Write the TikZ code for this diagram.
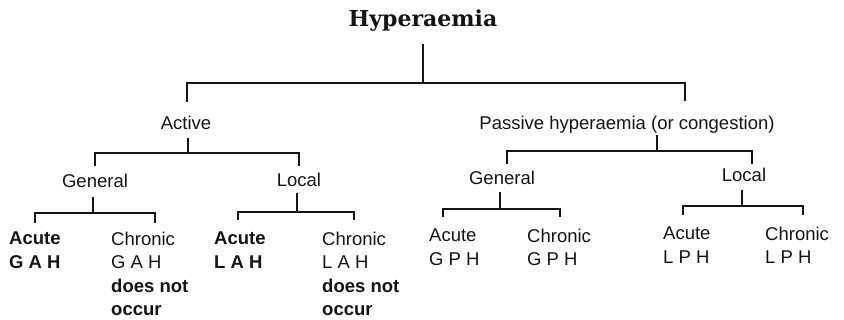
\documentclass[tikz,border=0pt]{standalone}
\usepackage{fontspec}
\setmainfont{Liberation Sans}
\newfontfamily\titlefont{DejaVu Serif}
\usepackage{tikz}
\usetikzlibrary{positioning}
\definecolor{HypInk}{HTML}{141414}

\begin{document}
\begin{tikzpicture}[x=1pt,y=-1pt,
  lbl/.style={font=\fontsize{18.5}{23.5}\selectfont,text=HypInk,inner sep=0pt,anchor=base},
  leaf/.style={font=\fontsize{18.5}{23.5}\selectfont,text=HypInk,inner sep=0pt,anchor=north west,align=left},
  link/.style={draw=HypInk,line width=1.8pt}]
\useasboundingbox (0,0) rectangle (844,320);
\node[font=\titlefont\bfseries\fontsize{22}{26}\selectfont,text=HypInk,inner sep=0pt,anchor=base] (hyp) at (423,27) {Hyperaemia};
\node[lbl] (act) at (186,130) {Active};
\node[lbl] (pas) at (627,130) {Passive hyperaemia (or congestion)};
\node[lbl] (gen-a) at (95,188) {General};
\node[lbl] (loc-a) at (299,187) {Local};
\node[lbl] (gen-p) at (502,185) {General};
\node[lbl] (loc-p) at (744,182) {Local};
% leaves
\node[leaf] (acu-ga) at (9,231.7) {\textbf{Acute}\\\textbf{G A H}};
\node[leaf] (chr-ga) at (111,231.7) {Chronic\\G A H\\\textbf{does not}\\\textbf{occur}};
\node[leaf] (acu-la) at (214,231.7) {\textbf{Acute}\\\textbf{L A H}};
\node[leaf] (chr-la) at (322,231.7) {Chronic\\L A H\\\textbf{does not}\\\textbf{occur}};
\node[leaf] (acu-gp) at (429,228.7) {Acute\\G P H};
\node[leaf] (chr-gp) at (527,228.7) {Chronic\\G P H};
\node[leaf] (acu-lp) at (663,226.7) {Acute\\L P H};
\node[leaf] (chr-lp) at (765,226.7) {Chronic\\L P H};
% forks
\coordinate (j-hyp) at (423,83);
\coordinate (d-act) at (187,102);
\coordinate (d-pas) at (685,101);
\draw[link] (hyp.south -| j-hyp) ++(0,12) -- (j-hyp);
\draw[link] (d-act) |- (j-hyp) -| (d-pas);
\coordinate (j-act) at (188,153);
\coordinate (d-gen-a) at (95,166);
\coordinate (d-loc-a) at (299,166);
\draw[link] (act.south -| j-act) ++(0,8) -- (j-act);
\draw[link] (d-gen-a) |- (j-act) -| (d-loc-a);
\coordinate (j-pas) at (657,151);
\coordinate (d-gen-p) at (507,164);
\coordinate (d-loc-p) at (752,164);
\draw[link] (pas.south -| j-pas) ++(0,1) -- (j-pas);
\draw[link] (d-gen-p) |- (j-pas) -| (d-loc-p);
\coordinate (j-gen-a) at (93,213);
\coordinate (d-acu-ga) at (35,223);
\coordinate (d-chr-ga) at (155,223);
\draw[link] (gen-a.south -| j-gen-a) ++(0,9) -- (j-gen-a);
\draw[link] (d-acu-ga) |- (j-gen-a) -| (d-chr-ga);
\coordinate (j-loc-a) at (297,212);
\coordinate (d-acu-la) at (238,220);
\coordinate (d-chr-la) at (354,220);
\draw[link] (loc-a.south -| j-loc-a) ++(0,6) -- (j-loc-a);
\draw[link] (d-acu-la) |- (j-loc-a) -| (d-chr-la);
\coordinate (j-gen-p) at (500,209);
\coordinate (d-acu-gp) at (443,217);
\coordinate (d-chr-gp) at (560,217);
\draw[link] (gen-p.south -| j-gen-p) ++(0,7) -- (j-gen-p);
\draw[link] (d-acu-gp) |- (j-gen-p) -| (d-chr-gp);
\coordinate (j-loc-p) at (742,206);
\coordinate (d-acu-lp) at (683,215);
\coordinate (d-chr-lp) at (803,215);
\draw[link] (loc-p.south -| j-loc-p) ++(0,8) -- (j-loc-p);
\draw[link] (d-acu-lp) |- (j-loc-p) -| (d-chr-lp);
\end{tikzpicture}
\end{document}
